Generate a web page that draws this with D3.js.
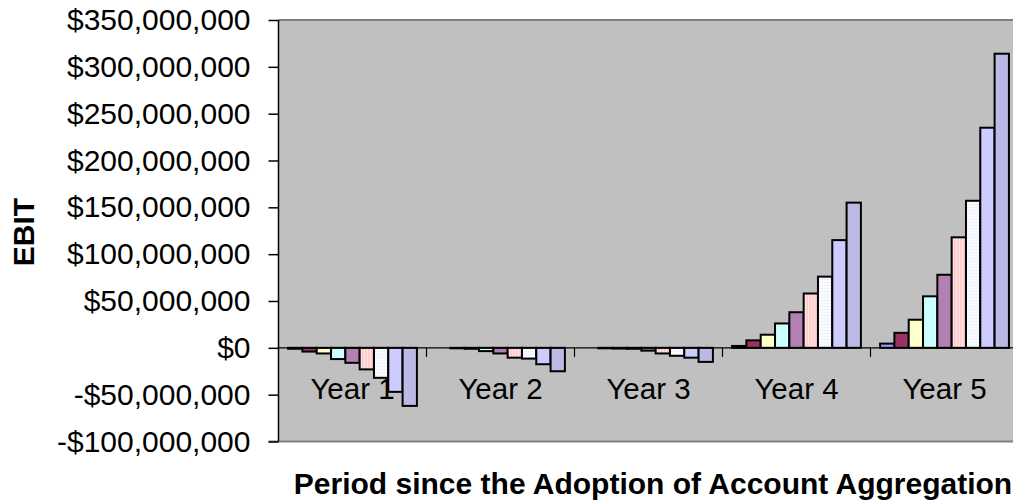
<!DOCTYPE html>
<html>
<head>
<meta charset="utf-8">
<script src="https://cdn.jsdelivr.net/npm/d3@7"></script>
<style>
  html, body { margin: 0; padding: 0; background: #fff; overflow: hidden; }
  svg { display: block; }
  text { font-family: "Liberation Sans", Arial, sans-serif; fill: #000; }
</style>
</head>
<body>
<svg id="chart" width="1013" height="501"></svg>
<script>
// ---- Data (values in millions of dollars) ----
const categories = ["Year 1", "Year 2", "Year 3", "Year 4", "Year 5"];
const series1 = [-1, 0, 0, 2, 4.5];
const series2 = [-4, -0.5, -0.5, 8, 16];
const series3 = [-6, -1, -0.8, 14, 30];
const series4 = [-12, -3.5, -1, 26, 55];
const series5 = [-16, -6, -3, 38, 78];
const series6 = [-23, -10.5, -6, 58, 118];
const series7 = [-32, -11.5, -8.5, 76, 157];
const series8 = [-47, -17.5, -10.5, 115, 235];
const series9 = [-62, -25, -15, 155, 314];
const yTicks = [-100, -50, 0, 50, 100, 150, 200, 250, 300, 350];
const yTitle = "EBIT";
const xTitle = "Period since the Adoption of Account Aggregation";

const allSeries = [series1, series2, series3, series4, series5, series6, series7, series8, series9];

// ---- Layout ----
const svg = d3.select("#chart");
const L = 278.5, T = 20, B = 441.5, groupW = 148;
const R = L + groupW * categories.length;

const defs = svg.append("defs");
function pattern(id, w, h, bg, draw) {
  const p = defs.append("pattern").attr("id", id).attr("patternUnits", "userSpaceOnUse")
    .attr("width", w).attr("height", h);
  p.append("rect").attr("width", w).attr("height", h).attr("fill", bg);
  draw(p);
}
pattern("p5", 2, 2, "#cc99cc", p => {
  p.append("rect").attr("x", 0).attr("y", 0).attr("width", 1).attr("height", 1).attr("fill", "#996699");
  p.append("rect").attr("x", 1).attr("y", 1).attr("width", 1).attr("height", 1).attr("fill", "#996699");
});
pattern("p6", 3, 3, "#ffe6e6", p => {
  p.append("rect").attr("x", 0).attr("y", 0).attr("width", 1).attr("height", 3).attr("fill", "#ffb4b4");
});
pattern("p7", 3, 3, "#ffffff", p => {
  p.append("rect").attr("x", 0).attr("y", 0).attr("width", 1).attr("height", 1).attr("fill", "#c8d4f0");
  p.append("rect").attr("x", 1.5).attr("y", 1.5).attr("width", 1).attr("height", 1).attr("fill", "#dde6f8");
});
pattern("p9", 2, 2, "#d0d0f4", p => {
  p.append("rect").attr("x", 0).attr("y", 0).attr("width", 1).attr("height", 1).attr("fill", "#a4a4d4");
  p.append("rect").attr("x", 1).attr("y", 1).attr("width", 1).attr("height", 1).attr("fill", "#a4a4d4");
});

const fills = ["#9999ff", "#993366", "#ffffcc", "#ccffff", "url(#p5)", "url(#p6)", "url(#p7)", "#ccccff", "url(#p9)"];

const y = d3.scaleLinear().domain([-100, 350]).range([B, T]);
const x0 = d3.scaleBand().domain(categories).range([L, R]).paddingInner(0).paddingOuter(0);
const x1 = d3.scaleBand().domain(d3.range(allSeries.length)).range([0, x0.bandwidth()])
  .paddingInner(0).paddingOuter(0.67);

// Plot area
svg.append("rect").attr("x", L).attr("y", T).attr("width", R - L).attr("height", B - T)
  .attr("fill", "#c0c0c0");
svg.append("line").attr("x1", L).attr("x2", R).attr("y1", T).attr("y2", T)
  .attr("stroke", "#808080").attr("stroke-width", 2);
svg.append("line").attr("x1", L - 10).attr("x2", R).attr("y1", B).attr("y2", B)
  .attr("stroke", "#808080").attr("stroke-width", 2);

// Category labels (drawn under bars)
svg.append("g").selectAll("text").data(categories).join("text")
  .attr("x", d => x0(d) + x0.bandwidth() / 2)
  .attr("y", 398.5)
  .attr("text-anchor", "middle")
  .style("font-size", "29.5px")
  .text(d => d);

// Bars
const gGroups = svg.append("g").selectAll("g").data(categories).join("g")
  .attr("transform", d => `translate(${x0(d)},0)`);
gGroups.selectAll("rect")
  .data((d, ci) => allSeries.map((s, si) => ({ si, v: s[ci] })))
  .join("rect")
  .attr("x", d => x1(d.si))
  .attr("width", x1.bandwidth())
  .attr("y", d => y(Math.max(0, d.v)))
  .attr("height", d => Math.abs(y(d.v) - y(0)))
  .attr("fill", d => fills[d.si])
  .attr("stroke", "#000")
  .attr("stroke-width", 2);

// Category axis at zero
svg.append("g").attr("transform", `translate(0,${y(0)})`).call(g => {
  g.append("line").attr("x1", L).attr("x2", R).attr("stroke", "#000").attr("stroke-width", 1.2);
  g.selectAll("line.t").data(categories.slice(1)).join("line").attr("class", "t")
    .attr("x1", d => x0(d)).attr("x2", d => x0(d)).attr("y1", 0).attr("y2", 9)
    .attr("stroke", "#000").attr("stroke-width", 1.2);
});

// Value axis
const fmt = v => (v < 0 ? "-$" : "$") + d3.format(",")(Math.abs(v) * 1e6);
const yAxis = d3.axisLeft(y).tickValues(yTicks).tickSize(10).tickPadding(18).tickFormat(fmt);
const gy = svg.append("g").attr("transform", `translate(${L},0)`).call(yAxis);
gy.select(".domain").attr("stroke", "#000").attr("stroke-width", 1.5).attr("d", `M0,${T}V${B}`);
gy.selectAll(".tick line").attr("stroke", "#000").attr("stroke-width", 1.5);
gy.selectAll(".tick text").style("font-size", "30px")
  .style("font-family", '"Liberation Sans", Arial, sans-serif').attr("fill", "#000");

// Titles
svg.append("text").attr("transform", `translate(34,232) rotate(-90)`)
  .attr("text-anchor", "middle").style("font-size", "30px").style("font-weight", "bold")
  .text(yTitle);
svg.append("text").attr("x", 653).attr("y", 494)
  .attr("text-anchor", "middle").style("font-size", "30px").style("font-weight", "bold")
  .text(xTitle);
</script>
</body>
</html>
